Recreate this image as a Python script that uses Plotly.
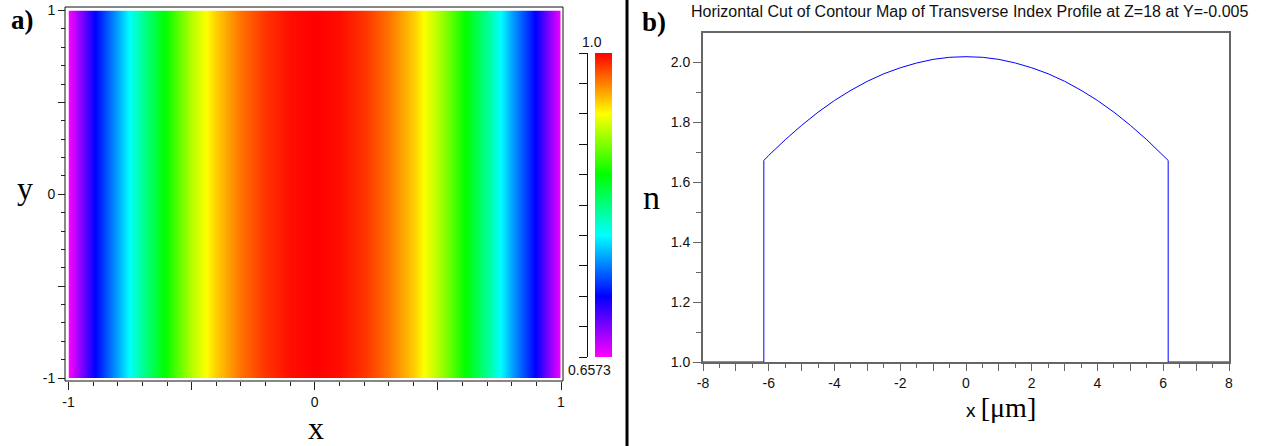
import plotly.graph_objects as go
import numpy as np

W, H = 1261, 446

# ---------- data ----------
# panel a: index map (depends on x only)
map_x = [-1.0, -0.9, -0.8, -0.7, -0.6, -0.5, -0.4, -0.3, -0.2, -0.1, 0.0,
         0.1, 0.2, 0.3, 0.4, 0.5, 0.6, 0.7, 0.8, 0.9, 1.0]
map_n = [0.6573, 0.7230, 0.7700, 0.8230, 0.8680, 0.9120, 0.9452, 0.9692, 0.9863, 0.9966, 1.0,
         0.9966, 0.9863, 0.9692, 0.9452, 0.9120, 0.8680, 0.8230, 0.7700, 0.7230, 0.6573]
map_y = [-1.0, 1.0]
cbar_min, cbar_max = 0.6573, 1.0

# panel b: horizontal cut
cut_x = [-8.0, -6.15, -6.15, -6.0, -5.5, -5.0, -4.5, -4.0, -3.5, -3.0, -2.5, -2.0, -1.5, -1.0, -0.5, 0.0,
         0.5, 1.0, 1.5, 2.0, 2.5, 3.0, 3.5, 4.0, 4.5, 5.0, 5.5, 6.0, 6.15, 6.15, 8.0]
cut_n = [1.0, 1.0, 1.672, 1.689, 1.741, 1.789, 1.833, 1.872, 1.906, 1.936, 1.961, 1.981, 1.997, 2.009, 2.016, 2.018,
         2.016, 2.009, 1.997, 1.981, 1.961, 1.936, 1.906, 1.872, 1.833, 1.789, 1.741, 1.689, 1.672, 1.0, 1.0]

title_b = "Horizontal Cut of Contour Map of Transverse Index Profile at Z=18 at Y=-0.005"

SANS = "Liberation Sans, Arial, sans-serif"
SERIF = "Liberation Serif, Times New Roman, serif"


def px(x):
    return x / W


def py(y):
    return 1 - y / H


colorscale = [[0.0, "#ff00ff"], [0.2, "#0000ff"], [0.4, "#00ffff"], [0.6, "#00ff00"],
              [0.8, "#ffff00"], [0.9, "#ff8000"], [1.0, "#ff0000"]]

fig = go.Figure()

fig.add_trace(go.Heatmap(
    x=map_x, y=map_y, z=[map_n, map_n], zmin=cbar_min, zmax=cbar_max,
    colorscale=colorscale, zsmooth="best", xaxis="x", yaxis="y",
    colorbar=dict(x=px(595), xanchor="left", xpad=0, thickness=17,
                  lenmode="pixels", len=304, y=py(205), yanchor="middle", ypad=0,
                  outlinewidth=0, showticklabels=False, ticks=""),
))

fig.add_trace(go.Scatter(x=cut_x, y=cut_n, mode="lines", line=dict(color="#0000ff", width=1),
                         xaxis="x2", yaxis="y2", showlegend=False, hoverinfo="skip"))

# invisible trace for colorbar tick axis
fig.add_trace(go.Scatter(x=[0, 1], y=[cbar_min, cbar_max], mode="markers", marker=dict(opacity=0),
                         xaxis="x3", yaxis="y3", showlegend=False, hoverinfo="skip"))

tickfont = dict(family=SANS, size=14, color="#111")

cb_ticks = list(np.linspace(cbar_min, cbar_max, 11))

fig.update_layout(
    width=W, height=H, autosize=False,
    margin=dict(l=0, r=0, t=0, b=0, pad=0, autoexpand=False),
    paper_bgcolor="white", plot_bgcolor="white", showlegend=False,
    xaxis=dict(domain=[px(68.5), px(561)], range=[-1, 1], anchor="free", position=py(381),
               tickvals=[-1, -0.5, 0, 0.5, 1], ticktext=["-1", "", "0", "", "1"],
               ticks="outside", ticklen=8, tickcolor="#222", tickfont=tickfont,
               minor=dict(dtick=0.1, tick0=0, ticks="outside", ticklen=4, tickcolor="#222"),
               showgrid=False, zeroline=False, showline=False),
    yaxis=dict(domain=[py(378), py(10.5)], range=[-1, 1], anchor="free", position=px(65),
               tickvals=[-1, -0.5, 0, 0.5, 1], ticktext=["-1", "", "0", "", "1"],
               ticks="outside", ticklen=7, tickcolor="#222", tickfont=tickfont,
               minor=dict(dtick=0.1, tick0=0, ticks="outside", ticklen=4, tickcolor="#222"),
               showgrid=False, zeroline=False, showline=False),
    xaxis2=dict(domain=[px(703), px(1229)], range=[-8, 8], anchor="y2",
                tickvals=list(range(-8, 9)), ticktext=[str(v) if v % 2 == 0 else "" for v in range(-8, 9)],
                ticks="outside", ticklen=7, tickcolor="#666", tickfont=tickfont,
                minor=dict(dtick=0.5, tick0=0, ticks="outside", ticklen=4, tickcolor="#666"),
                showgrid=False, zeroline=False, showline=True, linecolor="#666", linewidth=2, mirror=True),
    yaxis2=dict(domain=[py(362), py(33)], range=[1.0, 2.097], anchor="x2",
                tickvals=[1.0, 1.2, 1.4, 1.6, 1.8, 2.0], tickformat=".1f",
                ticks="outside", ticklen=8, tickcolor="#666", tickfont=tickfont,
                minor=dict(dtick=0.1, tick0=1.0, ticks="outside", ticklen=5, tickcolor="#666"),
                showgrid=False, zeroline=False, showline=True, linecolor="#666", linewidth=2, mirror=True),
    xaxis3=dict(domain=[px(588), px(592)], range=[0, 1], anchor="free", position=0, visible=False),
    yaxis3=dict(domain=[py(357), py(53)], range=[cbar_min, cbar_max], anchor="free", position=px(587),
                side="left", tickvals=cb_ticks, showticklabels=False, ticks="outside", ticklen=8,
                tickcolor="#111", showgrid=False, zeroline=False, showline=True, linecolor="#111",
                linewidth=1),
)

shapes = [
    # frame around map
    dict(type="rect", xref="paper", yref="paper", x0=px(65), x1=px(563), y0=py(381), y1=py(7),
         line=dict(color="#111", width=1), fillcolor="rgba(0,0,0,0)"),
    # divider
    dict(type="line", xref="paper", yref="paper", x0=px(627), x1=px(627), y0=0, y1=1,
         line=dict(color="#000", width=3)),
]
fig.update_layout(shapes=shapes)

ann = [
    dict(text="<b>a)</b>", x=px(9), y=py(20), xanchor="left", yanchor="middle",
         font=dict(family=SERIF, size=27, color="#000")),
    dict(text="<b>b)</b>", x=px(640), y=py(22), xanchor="left", yanchor="middle",
         font=dict(family=SERIF, size=27, color="#000")),
    dict(text="y", x=px(25), y=py(188), xanchor="center", yanchor="middle",
         font=dict(family=SERIF, size=32, color="#000")),
    dict(text="x", x=px(316), y=py(428), xanchor="center", yanchor="middle",
         font=dict(family=SERIF, size=32, color="#000")),
    dict(text="n", x=px(651), y=py(197), xanchor="center", yanchor="middle",
         font=dict(family=SERIF, size=34, color="#000")),
    dict(text="x <span style='font-family:Liberation Serif, Times New Roman, serif;font-size:28px'>[μm]</span>",
         x=px(1001), y=py(407), xanchor="center", yanchor="middle",
         font=dict(family=SANS, size=19, color="#000")),
    dict(text=title_b, x=px(969), y=py(12), xanchor="center", yanchor="middle",
         font=dict(family=SANS, size=16, color="#111")),
    dict(text="1.0", x=px(592), y=py(42), xanchor="center", yanchor="middle",
         font=dict(family=SANS, size=14, color="#111")),
    dict(text="0.6573", x=px(566), y=py(370), xanchor="left", yanchor="middle",
         font=dict(family=SANS, size=14, color="#111")),
]
for a in ann:
    a.update(xref="paper", yref="paper", showarrow=False)
fig.update_layout(annotations=ann)

# remove the default page margin so the 1261x446 figure fills the window exactly
fig.write_html("out.html", config={"displayModeBar": False},
               post_script="document.body.style.margin='0';document.body.style.overflow='hidden';")
